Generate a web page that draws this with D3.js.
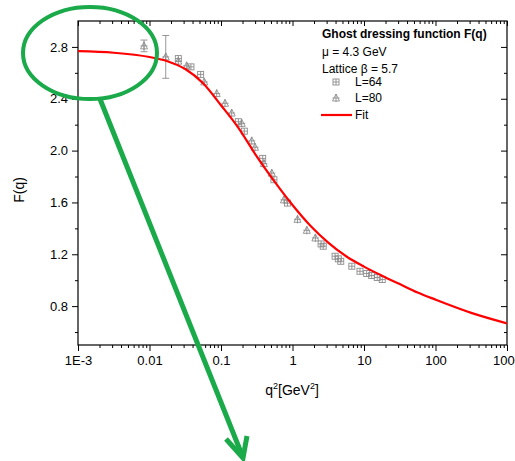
<!DOCTYPE html>
<html><head><meta charset="utf-8">
<script src="https://cdn.jsdelivr.net/npm/d3@7"></script>
<style>body{margin:0;background:#fff}svg{display:block}text{font-family:Arial,"Liberation Sans",sans-serif}</style>
</head><body><svg id="c" width="515" height="461"></svg>
<script>
// Fit curve
const fitQ2 = [0.001, 0.00316, 0.01, 0.0178, 0.0316, 0.0562, 0.1, 0.178, 0.316, 0.562, 1, 1.78, 3.16, 5.62, 10, 17.8, 31.6, 56.2, 100, 316, 1000];
const fitF  = [2.767, 2.755, 2.722, 2.69, 2.63, 2.52, 2.35, 2.17, 1.955, 1.76, 1.58, 1.42, 1.29, 1.185, 1.105, 1.035, 0.97, 0.905, 0.85, 0.748, 0.667];
// Lattice L=64 (squares)
const l64Q2 = [0.0253, 0.038, 0.0519, 0.175, 0.212, 0.383, 0.55, 0.851, 2.51, 2.69, 3.94, 4.37, 4.73, 6.76, 8.79, 10.9, 12.8, 15.3, 18.0];
const l64F  = [2.71, 2.646, 2.588, 2.223, 2.15, 1.94, 1.775, 1.595, 1.28, 1.262, 1.185, 1.165, 1.146, 1.108, 1.069, 1.052, 1.036, 1.021, 1.005];
// Lattice L=80 (triangles)
const l80Q2 = [0.00838, 0.01687, 0.0253, 0.0331, 0.0583, 0.0871, 0.1137, 0.141, 0.195, 0.269, 0.299, 0.398, 0.513, 0.759, 1.175, 1.585, 2.09];
const l80F  = [2.808, 2.723, 2.69, 2.654, 2.53, 2.44, 2.365, 2.29, 2.21, 2.075, 2.026, 1.90, 1.826, 1.62, 1.47, 1.385, 1.326];
const l80Err= [0.045, 0.165, 0, 0, 0, 0, 0, 0, 0, 0, 0, 0, 0, 0, 0, 0, 0];
// Ticks
const xTicks = [0.001, 0.01, 0.1, 1, 10, 100, 1000];
const xTickLabels = ["1E-3", "0.01", "0.1", "1", "10", "100", "1000"];
const yTicks = [0.8, 1.2, 1.6, 2.0, 2.4, 2.8];
const yMinorTicks = [0.6, 1.0, 1.4, 1.8, 2.2, 2.6];
const legendLines = ["Ghost dressing function F(q)", "\u03bc = 4.3 GeV", "Lattice \u03b2 = 5.7"];

const svg = d3.select("#c");
const L = 78, R = 507, T = 21, B = 345;
const x = d3.scaleLog().domain([0.001, 1000]).range([L, R]);
const y = d3.scaleLinear().domain([0.5, 3.0]).range([B, T]);
const gray = "#8c8c8c";

svg.append("defs").append("clipPath").attr("id","clip").append("rect")
  .attr("x", L).attr("y", T).attr("width", R-L).attr("height", B-T);

// Frame
svg.append("rect").attr("x", L).attr("y", T).attr("width", R-L).attr("height", B-T)
  .attr("fill","none").attr("stroke","#000").attr("stroke-width",1.2);

// log minor ticks
const minorX = [];
for (let e = -3; e < 3; e++) for (let k = 2; k <= 9; k++) minorX.push(k * Math.pow(10, e));

const bAx = svg.append("g").attr("transform", `translate(0,${B})`)
  .call(d3.axisBottom(x).tickValues(xTicks).tickFormat((d,i)=>xTickLabels[i]).tickSize(6).tickPadding(5));
bAx.select(".domain").remove();
bAx.selectAll("text").attr("font-size", 13).attr("fill","#000");
svg.append("g").attr("transform", `translate(0,${B})`)
  .call(d3.axisBottom(x).tickValues(minorX).tickFormat("").tickSize(3)).select(".domain").remove();

const tAx = svg.append("g").attr("transform", `translate(0,${T})`)
  .call(d3.axisBottom(x).tickValues(xTicks).tickFormat("").tickSize(5));
tAx.select(".domain").remove();
svg.append("g").attr("transform", `translate(0,${T})`)
  .call(d3.axisBottom(x).tickValues(minorX).tickFormat("").tickSize(3)).select(".domain").remove();

const lAx = svg.append("g").attr("transform", `translate(${L},0)`)
  .call(d3.axisLeft(y).tickValues(yTicks).tickFormat(d3.format(".1f")).tickSize(6).tickPadding(4));
lAx.select(".domain").remove();
lAx.selectAll("text").attr("font-size", 13).attr("fill","#000");
svg.append("g").attr("transform", `translate(${L},0)`)
  .call(d3.axisLeft(y).tickValues(yMinorTicks).tickFormat("").tickSize(3)).select(".domain").remove();

svg.append("g").attr("transform", `translate(${R},0)`)
  .call(d3.axisLeft(y).tickValues(yTicks).tickFormat("").tickSize(6)).select(".domain").remove();
svg.append("g").attr("transform", `translate(${R},0)`)
  .call(d3.axisLeft(y).tickValues(yMinorTicks).tickFormat("").tickSize(3)).select(".domain").remove();

// Axis titles
svg.append("text").attr("transform", "translate(24,190) rotate(-90)").attr("text-anchor","middle")
  .attr("font-size", 14).text("F(q)");
const xt = svg.append("text").attr("x", 292).attr("y", 395).attr("text-anchor","middle").attr("font-size", 14);
xt.append("tspan").text("q");
xt.append("tspan").attr("dy",-6).attr("font-size",9).text("2");
xt.append("tspan").attr("dy",6).text("[GeV");
xt.append("tspan").attr("dy",-6).attr("font-size",9).text("2");
xt.append("tspan").attr("dy",6).text("]");

// Markers
function square(g, cx, cy) {
  g.append("rect").attr("x", cx-3).attr("y", cy-3).attr("width",6).attr("height",6)
    .attr("fill","none").attr("stroke",gray).attr("stroke-width",0.9);
  g.append("path").attr("d", `M${cx-3},${cy}H${cx+3}M${cx},${cy-3}V${cy+3}`).attr("stroke",gray).attr("stroke-width",0.9);
}
function tri(g, cx, cy) {
  g.append("path").attr("d", `M${cx},${cy-4}L${cx+3.5},${cy+3}H${cx-3.5}Z`)
    .attr("fill","none").attr("stroke",gray).attr("stroke-width",0.9);
  g.append("path").attr("d", `M${cx-3.5},${cy}H${cx+3.5}M${cx},${cy-4}V${cy+4}`).attr("stroke",gray).attr("stroke-width",0.9);
}
const pts = svg.append("g").attr("clip-path","url(#clip)");
l64Q2.forEach((q,i)=> square(pts, x(q), y(l64F[i])));
l80Q2.forEach((q,i)=> {
  const cx = x(q), cy = y(l80F[i]);
  if (l80Err[i] > 0) {
    const y1 = y(l80F[i]+l80Err[i]), y2 = y(l80F[i]-l80Err[i]);
    pts.append("path").attr("d", `M${cx},${y1}V${y2}M${cx-3.5},${y1}H${cx+3.5}M${cx-3.5},${y2}H${cx+3.5}`)
      .attr("stroke",gray).attr("stroke-width",0.9).attr("fill","none");
  }
  tri(pts, cx, cy);
});

// Fit
const fitData = fitQ2.map((q,i)=>[q, fitF[i]]);
svg.append("path").datum(fitData).attr("clip-path","url(#clip)")
  .attr("d", d3.line().x(d=>x(d[0])).y(d=>y(d[1])).curve(d3.curveMonotoneX))
  .attr("fill","none").attr("stroke","#ff0000").attr("stroke-width",2.2);

// Legend
const lg = svg.append("g");
lg.append("text").attr("x",322).attr("y",38).attr("font-size",12).attr("font-weight","bold").text(legendLines[0]);
lg.append("text").attr("x",322).attr("y",56).attr("font-size",12).text(legendLines[1]);
lg.append("text").attr("x",322).attr("y",73).attr("font-size",12).text(legendLines[2]);
square(lg, 336, 82);
lg.append("text").attr("x",355).attr("y",86).attr("font-size",12).text("L=64");
tri(lg, 336, 98);
lg.append("text").attr("x",355).attr("y",102).attr("font-size",12).text("L=80");
lg.append("line").attr("x1",321).attr("x2",352).attr("y1",115).attr("y2",115).attr("stroke","#ff0000").attr("stroke-width",2.2);
lg.append("text").attr("x",355).attr("y",119).attr("font-size",12).text("Fit");

// Annotation: green ellipse and arrow
const green = "#1aaa4a";
svg.append("ellipse").attr("cx",90).attr("cy",53).attr("rx",67).attr("ry",46)
  .attr("fill","none").attr("stroke",green).attr("stroke-width",4);
svg.append("path").attr("d","M100,99L242,455").attr("stroke",green).attr("stroke-width",5).attr("fill","none");
svg.append("path").attr("d","M226,439L243,458L247,436").attr("stroke",green).attr("stroke-width",5)
  .attr("fill","none").attr("stroke-linejoin","miter").attr("stroke-linecap","butt");
</script></body></html>
